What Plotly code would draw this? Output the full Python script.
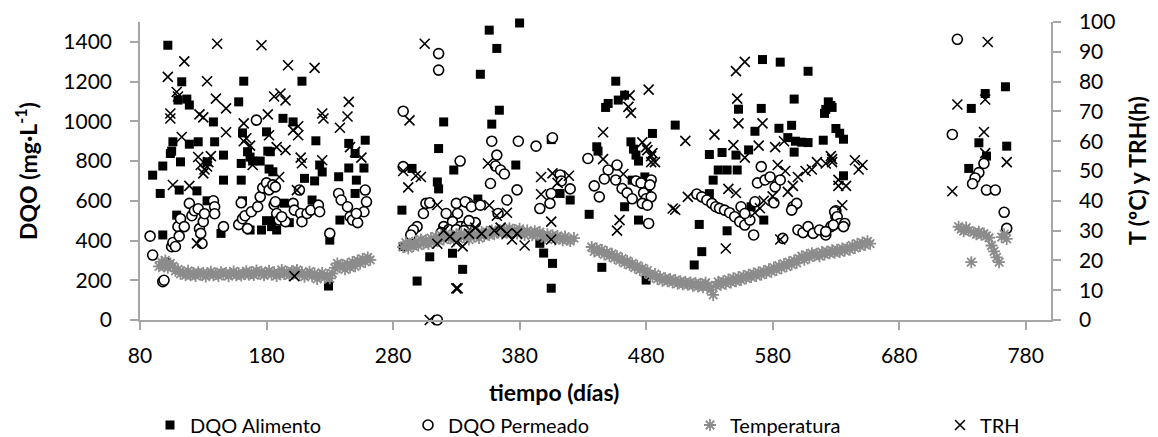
import plotly.graph_objects as go

# DQO Alimento (dia, mg/L)
alim_dia = [102, 90, 96, 98, 98, 104, 106, 105, 112, 109, 113, 110, 117, 119, 119, 126, 111, 125, 133, 133,
            138, 139, 146, 146, 144, 158, 162, 160, 160, 161, 161, 167, 165, 167, 169, 176, 175, 180, 181, 180,
            182, 184,
            193, 201, 208, 183, 219, 185, 194, 210, 218, 222, 224, 216, 187, 188, 198, 230, 237, 245, 245, 251,
            258, 257, 250, 238, 229, 250, 287, 295, 316, 320, 328, 315, 316, 309, 299, 327, 335, 288,
            356, 380, 362, 349, 364, 358, 347, 344, 377, 396, 399, 406, 405, 412, 420, 405, 435, 445, 441, 442,
            456, 463, 458, 450, 448, 468, 470, 472, 474, 485, 469, 463, 474, 481, 503, 480, 479,
            572, 586, 608, 597, 624, 622, 626, 553, 571, 566, 585, 595, 530, 540, 551, 561, 592, 598, 603, 608,
            597, 537, 544, 552, 533, 530, 522, 544, 524, 518, 573, 563,
            627, 621, 630, 633, 636, 620, 636, 764, 748, 737, 743, 765, 749, 735]
alim_val = [1383, 729, 637, 775, 428, 838, 897, 850, 796, 528, 1199, 1107, 1112, 1082, 885, 897, 654, 650, 796, 600,
            997, 897, 830, 704, 436, 1098, 1202, 788, 704, 942, 600, 453, 847, 820, 800, 453, 800, 947, 850, 500,
            760, 470,
            1015, 997, 1202, 847, 902, 746, 588, 713, 700, 780, 745, 604, 503, 453, 490, 402, 721, 889, 765, 704,
            905, 765, 637, 503, 171, 838, 553, 763, 863, 997, 755, 695, 660, 318, 196, 336, 255, 370,
            1459, 1495, 1367, 1237, 1056, 986, 609, 490, 780, 386, 337, 285, 160, 637, 604, 908, 532, 265, 872, 850,
            1202, 1132, 1107, 1090, 1070, 897, 860, 830, 800, 939, 704, 570, 503, 637, 981, 201, 720,
            1311, 1298, 1252, 1112, 1098, 1060, 1080, 1061, 1065, 950, 965, 980, 833, 843, 830, 856, 918, 900, 895, 893,
            845, 755, 755, 755, 704, 636, 481, 449, 344, 277, 503, 570,
            1070, 1040, 964, 940, 910, 905, 726, 1174, 1140, 1065, 892, 875, 825, 763]

# DQO Permeado (dia, mg/L)
perm_dia = [88, 90, 98, 99, 101, 105, 106, 108, 110, 111, 112, 115, 119, 121, 123, 126, 127, 128, 129, 130,
            131, 138, 139, 139, 146, 160, 158, 161, 163, 165, 168, 172, 173, 175, 177, 180, 182, 185, 186,
            187, 187, 188, 190, 195, 192, 201, 202, 207, 208, 212, 215, 221, 222, 206, 230, 237, 239, 244, 246,
            248, 252, 258, 259, 257, 251,
            316, 316, 288, 333, 288, 306, 309, 304, 299, 296, 294, 331, 339, 315,
            358, 379, 393, 406, 362, 361, 365, 368, 357, 378, 370, 330, 337, 342, 349, 363, 322, 327, 333, 338,
            345, 396, 404, 405, 412, 413, 420, 434, 439, 443, 450, 447, 457, 456, 461, 465, 469, 472, 476, 478,
            480, 484, 484, 482, 320, 324, 318, 330, 336, 340,
            520, 524, 528, 532, 535, 538, 542, 546, 550, 554, 558, 562, 565, 555, 558, 571, 568, 574, 578, 582,
            586, 581, 566, 596, 599, 595, 588, 600, 604, 608, 612, 617, 622, 626, 630, 630, 483, 477, 481,
            726, 722, 747, 743, 740, 738, 749, 756, 763, 765, 629, 631, 633, 637, 628, 622, 636]
perm_val = [422, 327, 193, 200, 285, 369, 390, 370, 470, 422, 510, 470, 587, 525, 550, 560, 460, 436, 385, 495,
            535, 600, 570, 535, 470, 590, 480, 510, 525, 460, 545, 1006, 570, 620, 665, 690, 655, 680, 580,
            670, 595, 536, 503, 495, 520, 587, 553, 536, 495, 536, 553, 578, 545, 654, 436, 637, 604, 570, 520,
            503, 490, 654, 595, 545, 536,
            1341, 1258, 1051, 800, 772, 587, 590, 536, 470, 453, 428, 536, 590, 0,
            900, 900, 875, 917, 830, 775, 755, 735, 687, 655, 604, 587, 595, 570, 578, 536, 536, 495, 470, 475,
            490, 561, 587, 637, 730, 700, 660, 813, 675, 620, 755, 710, 780, 705, 662, 640, 610, 700, 690, 640,
            610, 620, 705, 486, 470, 455, 440, 455, 450, 500,
            634, 620, 604, 587, 570, 562, 553, 540, 520, 495, 478, 503, 428, 570, 536, 772, 690, 705, 720, 670,
            705, 590, 595, 570, 587, 553, 411, 453, 440, 470, 436, 453, 428, 470, 520, 550, 680, 587, 578,
            1413, 934, 788, 742, 715, 686, 654, 654, 542, 461, 545, 520, 486, 486, 478, 445, 470]

# Temperatura (dia, ºC)
temp_dia = [95, 97, 99, 100, 102, 104, 106, 108, 110, 112, 114, 116, 118, 120, 122, 124, 126, 128, 130, 132,
            134, 136, 138, 140, 142, 144, 146, 148, 150, 152, 154, 156, 158, 160, 162, 164, 166, 168, 170, 172,
            174, 176, 178, 180, 182, 184, 186, 188, 190, 192, 194, 196, 198, 200, 202, 204, 206, 208, 210, 212,
            214, 216, 218, 220, 222, 224, 226, 228, 230, 232, 234, 236, 238, 240, 242, 244, 246, 248, 250, 252,
            254, 256, 258, 260, 262,
            288, 290, 292, 294, 296, 298, 300, 302, 304, 306, 308, 310, 312, 314, 316, 318, 320, 322, 324, 326,
            328, 330, 332, 334, 336, 338, 340, 342, 344, 346, 348, 350, 352, 354, 356, 358, 360, 362, 364, 366,
            368, 370, 372, 374, 376, 378, 380, 382, 384, 386, 388, 390, 392, 394, 396, 398, 400, 402, 404, 406,
            408, 410, 412, 414, 416, 418, 420, 423,
            437, 439, 441, 443, 445, 447, 449, 451, 453, 455, 457, 459, 461, 463, 465, 467, 469, 471, 473, 475,
            477, 479, 481, 483, 485, 487, 489, 491, 493, 495, 497, 499, 501, 503, 505, 507, 509, 511, 513, 515,
            517, 519, 521, 523, 525, 527, 529, 531, 533, 535, 537, 539, 541, 543, 545, 547, 549, 551, 553, 555,
            557, 559, 561, 563, 565, 567, 569, 571, 573, 575, 577, 579, 581, 583, 585, 587, 589, 591, 593, 595,
            597, 599, 601, 603, 605, 607, 609, 611, 613, 615, 617, 619, 621, 623, 625, 627, 629, 631, 633, 635,
            637, 639, 641, 643, 645, 647, 649, 651, 653, 655, 657,
            727, 729, 731, 733, 735, 737, 739, 741, 743, 745, 747, 749, 751, 753, 755, 757, 759, 761, 763, 765]
temp_val = [18, 19.5, 18, 20, 17.5, 19, 18, 16.5, 17, 15.5, 16, 15, 16.5, 15, 15.8, 14.8, 16, 15.2, 15.8, 14.6,
            15.5, 16.2, 15, 15.6, 14.8, 16, 15.3, 15.8, 14.7, 15.4, 16.3, 15, 15.7, 14.9, 15.5, 16.4, 15.2, 16, 15.1, 16.6,
            15.6, 16.2, 15, 15.8, 16.5, 15.2, 16, 14.8, 15.6, 16.8, 15.4, 16.2, 15, 16.4, 15.8, 16.8, 15.3, 16, 14.5, 15.4,
            16.2, 14.7, 15.6, 13.8, 14.9, 15.8, 14.2, 15, 14, 15.6, 17.5, 19, 17.8, 18.5, 17, 18.8, 17.6, 19.5, 18, 20,
            19, 20.5, 19.5, 21, 20.2,
            24.5, 26, 24, 25.5, 24.8, 26.5, 25, 27, 25.6, 26.8, 25.5, 27.5, 26, 28, 26.6, 28.5, 27, 29, 27.5, 28,
            26.8, 28.8, 27.2, 29, 27.8, 28.4, 27, 29.2, 28, 28.8, 27.5, 29.5, 28.2, 29.6, 28.5, 30, 28.8, 29.4, 30.2, 29,
            30.5, 29.3, 30.8, 29.6, 30.2, 29, 30.6, 29.4, 28.5, 30, 29.2, 28.4, 29.8, 28.6, 29.5, 28.2, 27.5, 28.8, 27.8, 28.4,
            27, 28.2, 27.4, 26.8, 28, 27, 26.5, 27.5,
            24.5, 23, 24, 22.8, 23.5, 22, 22.8, 21.5, 22.2, 20.8, 21.4, 20, 20.6, 19.2, 19.8, 18.5, 19, 17.6, 18.2, 16.8,
            17.4, 16, 16.6, 15.2, 14.6, 15.4, 13.8, 14.5, 13.2, 14, 13, 13.8, 12.6, 13.4, 12.2, 13, 12, 12.8, 11.8, 12.6,
            11.5, 12.4, 11.2, 12.2, 11, 12.5, 11.4, 10.2, 8.4, 11.6, 12.8, 11.8, 13, 12.2, 13.6, 12.6, 14, 13, 14.4, 13.4,
            14.8, 14, 15.2, 14.4, 15.6, 14.8, 16, 15.2, 16.4, 15.8, 17, 16.2, 17.6, 16.8, 18.2, 17.4, 18.8, 18, 19.4, 18.6,
            20, 19.2, 20.6, 21.4, 20.2, 21.8, 21, 22.4, 21.6, 22.2, 21.4, 22.8, 22, 23, 22.4, 23.4, 22.6, 23.6, 22.8, 24,
            23.2, 24.2, 23.6, 25, 24.2, 25.6, 24.8, 26, 25.2, 26.4, 25.6,
            31.3, 30.5, 29.8, 31, 30, 19.4, 29.4, 28.8, 29.6, 28.6, 29, 28.2, 27.6, 25, 23, 21, 19.4, 27.8, 28.8, 27.2]

# TRH (dia, h)
trh_dia = [102, 104, 104, 106, 109, 115, 110, 113, 119, 126, 130, 128, 131, 133, 134, 136, 125, 133, 127, 130,
           141, 140, 148, 148, 162, 162, 164, 167, 169, 176, 181, 182, 186,
           197, 218, 191, 195, 224, 225, 245, 244, 238, 201, 205, 205, 195, 188, 207, 208, 224, 246, 250, 255,
           190, 204, 202, 305, 293, 288, 292, 298, 302, 315, 315, 331, 309,
           355, 397, 406, 419, 410, 397, 405, 405, 384, 378, 320, 325, 330, 335, 340, 345, 350, 360, 365, 370,
           374, 330, 356, 362, 370, 446, 446, 467, 482, 466, 468, 477, 481, 484, 484, 462, 459, 457, 501,
           551, 558, 552, 553, 572, 534, 511, 549, 569, 582, 589, 558, 545, 551, 513, 503, 543, 586, 566, 570,
           573, 580, 584, 590, 592, 596, 600, 606, 611, 615, 622, 627, 632, 480, 485, 487,
           750, 726, 748, 747, 765, 722, 748, 626, 627, 632, 635, 638, 645, 651, 648]
trh_val = [81.6, 69.3, 67.6, 45.3, 76.5, 86.8, 75, 61.4, 45, 54.7, 49.2, 52, 50.5, 51.5, 53, 55, 25.7, 80.1, 69, 68,
           92.7, 74.3, 71, 63, 66, 60, 61, 58.5, 52, 92.2, 69, 62, 75,
           85.5, 84.6, 76, 73.7, 69.3, 67.6, 73.2, 68.3, 64.5, 63.7, 65, 62, 57, 58, 54.5, 52.6, 53.6, 58, 56.4, 54.5,
           48, 43.6, 14.7, 92.7, 67, 50, 44.5, 48.4, 48, 38.6, 25.6, 10.6, 0,
           52.5, 48, 49.2, 48.4, 46, 42.2, 33, 27, 25, 29, 30, 28, 26, 24.7, 29, 31, 29, 30, 31, 29,
           27, 10.6, 38.5, 35, 36, 63, 54, 75.4, 77.3, 71.5, 69.5, 59.6, 57, 55, 53, 49, 33.5, 30, 37.4,
           83.5, 86.6, 74.3, 66, 66, 62.2, 60.1, 58.7, 58.5, 58, 60, 54.5, 44, 42.6, 41.3, 37, 24, 27, 36, 37.5,
           40, 41.5, 52, 50, 43, 45, 48, 50, 50.5, 53, 52.5, 54, 45, 58, 56, 53,
           93.3, 72.3, 74, 63.1, 53, 43.2, 56, 55, 53, 47, 38.5, 45, 53.6, 52, 50.5]

fig = go.Figure()
fig.add_trace(go.Scatter(x=alim_dia, y=alim_val, mode='markers', name='DQO Alimento', legend='legend',
                         cliponaxis=False,
                         marker=dict(symbol='square', size=9, color='black')))
fig.add_trace(go.Scatter(x=perm_dia, y=perm_val, mode='markers', name='DQO Permeado', legend='legend2',
                         cliponaxis=False,
                         marker=dict(symbol='circle', size=10, color='white',
                                     line=dict(color='black', width=1.6))))
fig.add_trace(go.Scatter(x=temp_dia, y=temp_val, mode='markers', name='Temperatura', yaxis='y2', legend='legend3',
                         cliponaxis=False,
                         marker=dict(symbol='asterisk-open', size=10, color='#8c8c8c',
                                     line=dict(color='#8c8c8c', width=1.8))))
fig.add_trace(go.Scatter(x=trh_dia, y=trh_val, mode='markers', name='TRH', yaxis='y2', legend='legend4',
                         cliponaxis=False,
                         marker=dict(symbol='x-thin-open', size=10, color='black',
                                     line=dict(color='black', width=1.6))))

# page body has an 8px margin, so the figure is laid out 8px smaller than the window
W, H = 1150, 429
L, R, T, B = 132, 107, 14, 117
pw, ph = W - L - R, H - T - B

def px(fx):
    return (fx - 8 - L) / pw

def py(fy):
    return (H - B - (fy - 8)) / ph

axis_col = '#a6a6a6'
tick_font = dict(size=21, color='black')
leg = dict(orientation='h', y=py(425), yanchor='middle', xanchor='left', font=dict(size=20),
           bgcolor='rgba(0,0,0,0)')

fig.update_layout(
    width=W, height=H,
    margin=dict(l=L, r=R, t=T, b=B, autoexpand=False),
    plot_bgcolor='white', paper_bgcolor='white',
    font=dict(family='Lato, Open Sans, sans-serif', size=20, color='black'),
    showlegend=True,
    xaxis=dict(range=[80, 800], tickvals=list(range(80, 781, 100)), showgrid=False, zeroline=False,
               showline=True, linecolor=axis_col, linewidth=1.5, ticks='outside', ticklen=8,
               tickcolor=axis_col, tickwidth=1.5, tickfont=tick_font, ticklabelstandoff=8),
    yaxis=dict(range=[0, 1500], tickvals=list(range(0, 1401, 200)), showgrid=False, zeroline=False,
               showline=True, linecolor=axis_col, linewidth=1.5, ticks='outside', ticklen=8,
               tickcolor=axis_col, tickwidth=1.5, tickfont=tick_font, ticklabelstandoff=14),
    yaxis2=dict(range=[0, 100], dtick=10, overlaying='y', side='right', showgrid=False, zeroline=False,
                showline=True, linecolor=axis_col, linewidth=1.5, ticks='outside', ticklen=8,
                tickcolor=axis_col, tickwidth=1.5, tickfont=tick_font, ticklabelstandoff=14),
    legend=dict(leg, x=px(150)),
    legend2=dict(leg, x=px(408)),
    legend3=dict(leg, x=px(690)),
    legend4=dict(leg, x=px(940)),
    annotations=[
        dict(text='<b>tiempo (días)</b>', x=px(554), y=py(392), xref='paper', yref='paper', showarrow=False,
             font=dict(size=23), xanchor='center', yanchor='middle'),
        dict(text='<b>DQO (mg·L<sup>-1</sup>)</b>', x=px(26), y=0.5, xref='paper', yref='paper', showarrow=False,
             font=dict(size=23), textangle=-90, xanchor='center', yanchor='middle'),
        dict(text='<b>T (ºC) y TRH(h)</b>', x=px(1137), y=0.5, xref='paper', yref='paper', showarrow=False,
             font=dict(size=23), textangle=-90, xanchor='center', yanchor='middle'),
    ],
)

fig.write_html("out.html")
